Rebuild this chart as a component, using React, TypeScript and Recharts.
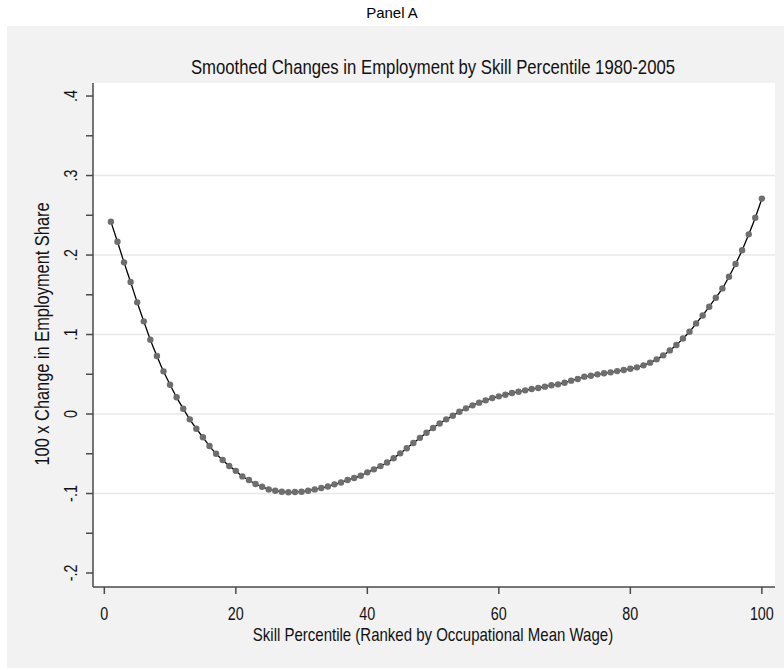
import { LineChart, Line, XAxis, YAxis, CartesianGrid, ReferenceLine } from "recharts";

// skill percentile (x) and smoothed 100 x change in employment share (y)
const percentiles = [
  1, 2, 3, 4, 5, 6, 7, 8, 9, 10, 11, 12, 13, 14, 15, 16, 17, 18, 19, 20,
  21, 22, 23, 24, 25, 26, 27, 28, 29, 30, 31, 32, 33, 34, 35, 36, 37, 38, 39, 40,
  41, 42, 43, 44, 45, 46, 47, 48, 49, 50, 51, 52, 53, 54, 55, 56, 57, 58, 59, 60,
  61, 62, 63, 64, 65, 66, 67, 68, 69, 70, 71, 72, 73, 74, 75, 76, 77, 78, 79, 80,
  81, 82, 83, 84, 85, 86, 87, 88, 89, 90, 91, 92, 93, 94, 95, 96, 97, 98, 99, 100,
];

const empChange = [
  0.242, 0.2167, 0.1908, 0.166, 0.1405, 0.1166, 0.0935, 0.073, 0.0537, 0.0369,
  0.021, 0.0067, -0.0067, -0.0185, -0.0293, -0.0403, -0.05, -0.0579, -0.0654, -0.0715,
  -0.0785, -0.083, -0.088, -0.0914, -0.0948, -0.0965, -0.0977, -0.0985, -0.0981, -0.0977,
  -0.0965, -0.0948, -0.0931, -0.0912, -0.0885, -0.0862, -0.083, -0.0805, -0.0776, -0.0734,
  -0.0696, -0.0655, -0.061, -0.0556, -0.0495, -0.043, -0.0365, -0.03, -0.0235, -0.0175,
  -0.012, -0.0067, -0.0021, 0.0029, 0.0071, 0.0109, 0.0143, 0.0172, 0.0201, 0.0222,
  0.0243, 0.0264, 0.0281, 0.0298, 0.0314, 0.0327, 0.0344, 0.0361, 0.0373, 0.0394,
  0.042, 0.044, 0.047, 0.0482, 0.0499, 0.0512, 0.0524, 0.054, 0.0553, 0.057,
  0.0587, 0.0612, 0.0646, 0.0688, 0.0738, 0.08, 0.0868, 0.095, 0.1035, 0.114,
  0.124, 0.135, 0.1463, 0.158, 0.1727, 0.1887, 0.206, 0.226, 0.247, 0.271,
];

const xTicks = [0, 20, 40, 60, 80, 100];
const yTicks = [-0.2, -0.15, -0.1, -0.05, 0, 0.05, 0.1, 0.15, 0.2, 0.25, 0.3, 0.35, 0.4];
const gridValues = [-0.1, 0, 0.1, 0.2, 0.3];

const data = percentiles.map((p, i) => ({ p, v: empChange[i] }));

// no narrow font installed, so squeeze Liberation Sans (Arial metrics) like Arial Narrow
const FONT = "'Liberation Sans', Arial, sans-serif";
const SQUEEZE = 0.82;
const AXIS = "#4a4a4a";

const fmtY = (v: number) => {
  if (Math.abs(v) < 1e-9) return "0";
  const s = Math.abs(v).toFixed(1).replace(/^0/, "");
  return v < 0 ? "-" + s : s;
};

const isMajor = (v: number) => Math.abs(v * 10 - Math.round(v * 10)) < 1e-6;

const NarrowText = ({ x, y, size, rotate = 0, children }: any) => (
  <text
    transform={`translate(${x},${y}) rotate(${rotate}) scale(${SQUEEZE},1)`}
    textAnchor="middle"
    fontSize={size}
    fill="#111"
    fontFamily={FONT}
  >
    {children}
  </text>
);

const YTick = (props: any) => {
  const { y, payload } = props;
  if (!isMajor(payload.value)) return null;
  return (
    <NarrowText x={77} y={y} size={17.5} rotate={-90}>
      {fmtY(payload.value)}
    </NarrowText>
  );
};

const XTick = (props: any) => {
  const { x, payload } = props;
  return (
    <NarrowText x={x} y={620} size={17.5}>
      {payload.value}
    </NarrowText>
  );
};

export default function App() {
  return (
    <div style={{ position: "absolute", left: 0, top: 0, width: 784, height: 670 }}>
      <div
        style={{
          position: "absolute",
          left: 7,
          top: 26,
          width: 777,
          height: 642,
          background: "#f2f2f2",
        }}
      />
      <div style={{ position: "absolute", left: 0, top: 0 }}>
        <LineChart
          width={784}
          height={670}
          data={data}
          margin={{ top: 83, right: 9, bottom: 53, left: 33 }}
        >
          <CartesianGrid fill="#ffffff" horizontal={false} vertical={false} />
          {gridValues.map((g) => (
            <ReferenceLine key={g} y={g} stroke="#e8e8e8" strokeWidth={1.5} />
          ))}
          <XAxis
            dataKey="p"
            type="number"
            domain={[-1.72, 102]}
            ticks={xTicks}
            height={30}
            axisLine={{ stroke: AXIS, strokeWidth: 1.5 }}
            tickLine={{ stroke: AXIS, strokeWidth: 1.5 }}
            tickSize={7}
            tick={<XTick />}
            interval={0}
          />
          <YAxis
            type="number"
            domain={[-0.2176, 0.4164]}
            ticks={yTicks}
            width={60}
            axisLine={{ stroke: AXIS, strokeWidth: 1.5 }}
            tickLine={{ stroke: AXIS, strokeWidth: 1.5 }}
            tickSize={7}
            tick={<YTick />}
            interval={0}
            allowDataOverflow
          />
          <Line
            type="monotone"
            dataKey="v"
            stroke="#000"
            strokeWidth={1.3}
            dot={{ r: 3.2, fill: "#6e6e6e", stroke: "none" }}
            activeDot={false}
            isAnimationActive={false}
          />
        </LineChart>
      </div>
      <svg
        width={784}
        height={670}
        style={{ position: "absolute", left: 0, top: 0, pointerEvents: "none" }}
      >
        <text x={392} y={18} textAnchor="middle" fontSize={15} fill="#000" fontFamily={FONT}>
          Panel A
        </text>
        <NarrowText x={433} y={74} size={20.4}>
          Smoothed Changes in Employment by Skill Percentile 1980-2005
        </NarrowText>
        <NarrowText x={433} y={641} size={18.3}>
          Skill Percentile (Ranked by Occupational Mean Wage)
        </NarrowText>
        <NarrowText x={49} y={334} size={20} rotate={-90}>
          100 x Change in Employment Share
        </NarrowText>
      </svg>
    </div>
  );
}
